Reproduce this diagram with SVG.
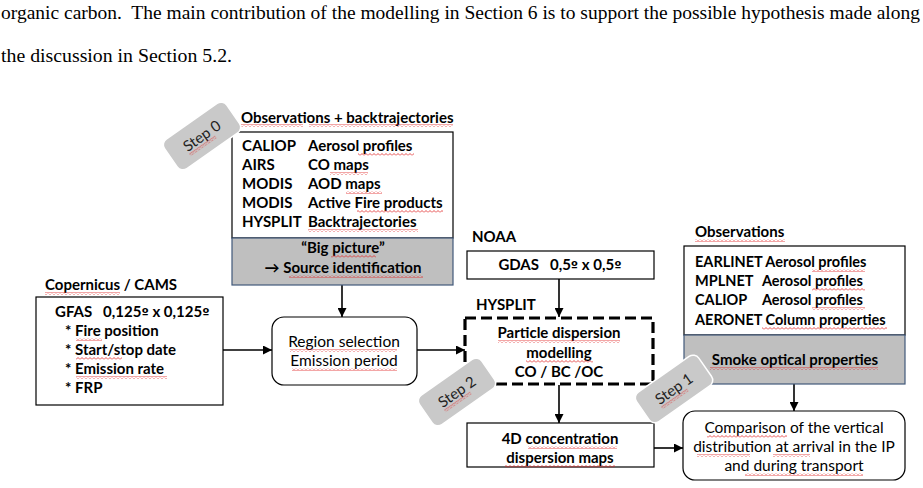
<svg xmlns="http://www.w3.org/2000/svg" width="923" height="488" viewBox="0 0 923 488">
<style>
.para{font-family:"Liberation Serif","Times New Roman",serif;font-size:18px;fill:#000}
.b{font-family:Lato,"Liberation Sans",sans-serif;font-weight:700;font-size:15px;fill:#000}
.s{font-size:14.5px}
.n{font-family:Lato,"Liberation Sans",sans-serif;font-weight:400;font-size:15.5px;fill:#000}
.c{text-anchor:middle}
.o{font-family:"DejaVu Sans",sans-serif;font-size:13px}
.box{fill:#fff;stroke:#000;stroke-width:1.2}
.gray{fill:#bfbfbf;stroke:#41597a;stroke-width:1.2}
.dash{fill:#fff;stroke:#000;stroke-width:3.2;stroke-dasharray:11 5}
.step rect{fill:#c9c9c9;stroke:#fff;stroke-width:1.5}
.step text{font-family:Lato,"Liberation Sans",sans-serif;font-size:15px;fill:#222;text-anchor:middle}
.conn line{stroke:#000;stroke-width:1.6;marker-end:url(#ah)}
.sq,.step rect.sq{fill:url(#wave);stroke:none}
</style>
<defs>
<marker id="ah" markerUnits="userSpaceOnUse" markerWidth="9" markerHeight="9" refX="9" refY="4.5" orient="auto">
<path d="M0,0 L9,4.5 L0,9 z" fill="#000"/>
</marker>
<pattern id="wave" patternUnits="userSpaceOnUse" width="4" height="3">
<path d="M0,2.5 L2,0.5 L4,2.5" fill="none" stroke="#e02020" stroke-width="0.8"/>
</pattern>
</defs>
<rect width="923" height="488" fill="#fff"/>
<g id="paragraph">
<text class="para" x="1" y="19" textLength="919" lengthAdjust="spacingAndGlyphs" xml:space="preserve">organic carbon.  The main contribution of the modelling in Section 6 is to support the possible hypothesis made along</text>
<text class="para" x="1" y="62" textLength="231" lengthAdjust="spacingAndGlyphs">the discussion in Section 5.2.</text>
</g>
<g id="conn" class="conn">
<line x1="342" y1="285" x2="342" y2="317"/>
<line x1="223" y1="350" x2="272" y2="350"/>
<line x1="417" y1="350" x2="465" y2="350"/>
<line x1="559" y1="279" x2="559" y2="317"/>
<line x1="559" y1="385" x2="559" y2="423"/>
<line x1="654" y1="448" x2="683" y2="448"/>
<line x1="794" y1="384" x2="794" y2="411"/>
</g>
<g id="observations-backtrajectories">
<text class="b" x="241" y="123">Observations + backtrajectories</text>
<rect class="box" x="232" y="132" width="221" height="106"/>
<rect class="gray" x="232" y="238" width="221" height="47"/>
<text class="b" x="242" y="151">CALIOP</text><text class="b" x="308" y="151">Aerosol profiles</text>
<text class="b" x="242" y="170">AIRS</text><text class="b" x="308" y="170">CO maps</text>
<text class="b" x="242" y="189">MODIS</text><text class="b" x="308" y="189">AOD maps</text>
<text class="b" x="242" y="208">MODIS</text><text class="b" x="308" y="208">Active Fire products</text>
<text class="b" x="242" y="227">HYSPLIT</text><text class="b" x="308" y="227">Backtrajectories</text>
<text class="b c" x="343" y="253">“Big picture”</text>
<text class="b c" x="343" y="273">→ Source identification</text>
</g>
<g id="copernicus">
<text class="b" x="45" y="290">Copernicus / CAMS</text>
<rect class="box" x="36" y="297" width="187" height="108"/>
<text class="b" x="55" y="317" xml:space="preserve">GFAS   0,125<tspan class="o">º</tspan> x 0,125<tspan class="o">º</tspan></text>
<text class="b" x="65" y="336">* Fire position</text>
<text class="b" x="65" y="355">* Start/stop date</text>
<text class="b" x="65" y="374">* Emission rate</text>
<text class="b" x="65" y="393">* FRP</text>
</g>
<g id="region-selection">
<rect class="box" x="272" y="317" width="145" height="68" rx="12"/>
<text class="n c" x="344" y="347">Region selection</text>
<text class="n c" x="344" y="366">Emission period</text>
</g>
<g id="noaa">
<text class="b" x="472" y="242">NOAA</text>
<rect class="box" x="467" y="251" width="187" height="28"/>
<text class="b c" x="560" y="270" xml:space="preserve">GDAS   0,5<tspan class="o">º</tspan> x 0,5<tspan class="o">º</tspan></text>
</g>
<g id="hysplit">
<text class="b" x="476" y="310">HYSPLIT</text>
<rect class="dash" x="465" y="318" width="188" height="66"/>
<text class="b c" x="559" y="338">Particle dispersion</text>
<text class="b c" x="559" y="358">modelling</text>
<text class="b c" x="559" y="377">CO / BC /OC</text>
</g>
<g id="maps-4d">
<rect class="box" x="467" y="423" width="187" height="44"/>
<text class="b c" x="560" y="444">4D concentration</text>
<text class="b c" x="560" y="463">dispersion maps</text>
</g>
<g id="observations">
<text class="b" x="695" y="237">Observations</text>
<rect class="box" x="684" y="246" width="221" height="89"/>
<rect class="gray" x="684" y="335" width="221" height="49"/>
<text class="b s" x="695" y="267">EARLINET Aerosol profiles</text>
<text class="b s" x="695" y="286">MPLNET</text><text class="b s" x="762" y="286">Aerosol profiles</text>
<text class="b s" x="695" y="305">CALIOP</text><text class="b s" x="762" y="305">Aerosol profiles</text>
<text class="b s" x="695" y="325">AERONET Column properties</text>
<text class="b c" x="795" y="365">Smoke optical properties</text>
</g>
<g id="comparison">
<rect class="box" x="683" y="411" width="222" height="69" rx="12"/>
<text class="n c" x="794" y="433">Comparison of the vertical</text>
<text class="n c" x="794" y="452">distribution at arrival in the IP</text>
<text class="n c" x="794" y="471">and during transport</text>
</g>
<g id="spellcheck">
<rect class="sq" x="241" y="124" width="62" height="3"/>
<rect class="sq" x="309" y="124" width="144" height="3"/>
<rect class="sq" x="358" y="153" width="56" height="3"/>
<rect class="sq" x="330" y="172" width="38" height="3"/>
<rect class="sq" x="346" y="191" width="36" height="3"/>
<rect class="sq" x="357" y="210" width="86" height="3"/>
<rect class="sq" x="308" y="229" width="110" height="3"/>
<rect class="sq" x="331" y="255" width="45" height="3"/>
<rect class="sq" x="289" y="275" width="134" height="3"/>
<rect class="sq" x="45" y="292" width="75" height="3"/>
<rect class="sq" x="76" y="338" width="26" height="3"/>
<rect class="sq" x="76" y="357" width="46" height="3"/>
<rect class="sq" x="76" y="376" width="91" height="3"/>
<rect class="sq" x="290" y="349" width="107" height="3"/>
<rect class="sq" x="292" y="368" width="105" height="3"/>
<rect class="sq" x="498" y="340" width="122" height="3"/>
<rect class="sq" x="526" y="360" width="67" height="3"/>
<rect class="sq" x="528" y="446" width="89" height="3"/>
<rect class="sq" x="505" y="465" width="110" height="3"/>
<rect class="sq" x="695" y="239" width="90" height="3"/>
<rect class="sq" x="812" y="269" width="53" height="3"/>
<rect class="sq" x="812" y="288" width="53" height="3"/>
<rect class="sq" x="812" y="307" width="53" height="3"/>
<rect class="sq" x="762" y="327" width="125" height="3"/>
<rect class="sq" x="710" y="367" width="168" height="3"/>
<rect class="sq" x="707" y="435" width="80" height="3"/>
<rect class="sq" x="697" y="454" width="53" height="3"/>
<rect class="sq" x="773" y="454" width="37" height="3"/>
<rect class="sq" x="745" y="473" width="118" height="3"/>
</g>
<g id="step0" class="step" transform="translate(202,136) rotate(-35)">
<rect x="-38" y="-18" width="76" height="36" rx="7"/>
<text x="0" y="5">Step 0</text>
<rect class="sq" x="-21" y="7" width="32" height="3"/>
</g>
<g id="step2" class="step" transform="translate(457,392) rotate(-35)">
<rect x="-38" y="-18" width="76" height="36" rx="7"/>
<text x="0" y="5">Step 2</text>
<rect class="sq" x="-21" y="7" width="32" height="3"/>
</g>
<g id="step1" class="step" transform="translate(674,389) rotate(-35)">
<rect x="-38" y="-18" width="76" height="36" rx="7"/>
<text x="0" y="5">Step 1</text>
<rect class="sq" x="-21" y="7" width="32" height="3"/>
</g>
</svg>
